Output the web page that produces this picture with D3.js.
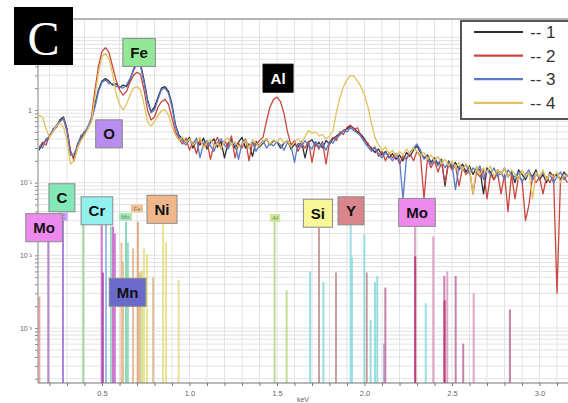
<!DOCTYPE html>
<html>
<head>
<meta charset="utf-8">
<script src="https://cdn.jsdelivr.net/npm/d3@7/dist/d3.min.js"></script>
<style>
  body { margin: 0; background: #fff; }
  svg { display: block; }
</style>
</head>
<body>
<div id="chart"></div>
<script>
// EDS spectrum, panel C

// channel axis (keV)
var energyStart = 0.14;
var energyStep = 0.02;

// spectra, one value per channel (counts, log axis)
var series1 = [0.28,0.34,0.38,0.44,0.52,0.58,0.74,0.80,0.55,0.26,
  0.22,0.34,0.42,0.50,0.56,0.72,1.2,1.9,2.5,2.7,
  2.5,2.2,2.3,2.0,2.2,2.1,2.6,3.6,4.6,4.3,
  2.6,1.4,0.95,1.1,1.5,2.0,2.1,1.8,1.2,0.62,
  0.45,0.40,0.36,0.42,0.30,0.38,0.33,0.41,0.29,0.36,
  0.40,0.31,0.37,0.22,0.35,0.39,0.30,0.36,0.42,0.30,
  0.34,0.23,0.37,0.31,0.35,0.40,0.33,0.38,0.36,0.30,
  0.35,0.38,0.29,0.34,0.31,0.37,0.22,0.36,0.39,0.32,
  0.36,0.30,0.38,0.34,0.40,0.44,0.48,0.52,0.55,0.60,
  0.56,0.50,0.46,0.40,0.33,0.30,0.26,0.29,0.24,0.27,
  0.22,0.25,0.21,0.24,0.20,0.26,0.23,0.28,0.32,0.26,
  0.22,0.24,0.19,0.22,0.18,0.21,0.09,0.20,0.16,0.19,
  0.15,0.18,0.14,0.17,0.13,0.16,0.15,0.07,0.16,0.14,
  0.11,0.15,0.13,0.16,0.12,0.14,0.10,0.15,0.13,0.11,
  0.14,0.12,0.15,0.11,0.13,0.10,0.14,0.12,0.13,0.11,
  0.14,0.12];

var series2 = [0.30,0.36,0.33,0.45,0.50,0.62,0.70,0.78,0.52,0.28,
  0.20,0.30,0.40,0.46,0.58,0.80,1.9,4.0,6.4,7.2,
  6.2,4.0,2.6,1.9,1.6,1.8,2.4,3.0,3.3,3.1,
  1.9,1.0,0.73,0.80,1.1,1.3,1.4,1.2,0.78,0.50,
  0.40,0.34,0.41,0.28,0.36,0.25,0.39,0.32,0.37,0.21,
  0.34,0.42,0.29,0.38,0.31,0.44,0.22,0.35,0.30,0.40,
  0.20,0.36,0.33,0.38,0.42,0.70,1.1,1.4,1.5,1.3,
  0.90,0.50,0.33,0.38,0.27,0.34,0.30,0.37,0.19,0.35,
  0.29,0.37,0.18,0.36,0.42,0.38,0.50,0.46,0.58,0.62,
  0.54,0.57,0.44,0.38,0.35,0.28,0.31,0.23,0.27,0.20,
  0.26,0.22,0.25,0.18,0.23,0.21,0.25,0.20,0.27,0.23,
  0.06,0.22,0.16,0.20,0.14,0.19,0.10,0.18,0.15,0.17,
  0.09,0.16,0.13,0.15,0.07,0.14,0.12,0.15,0.06,0.13,
  0.11,0.14,0.07,0.13,0.04,0.13,0.06,0.12,0.11,0.03,
  0.05,0.12,0.10,0.12,0.07,0.12,0.10,0.13,0.003,0.11,
  0.12,0.10];

var series3 = [0.32,0.30,0.40,0.42,0.55,0.60,0.70,0.76,0.50,0.24,
  0.25,0.32,0.45,0.48,0.60,0.75,1.1,1.8,2.4,2.6,
  2.3,2.3,2.1,2.1,2.0,2.2,2.7,3.5,4.3,4.0,
  2.4,1.3,0.92,1.0,1.4,1.9,2.0,1.7,1.1,0.60,
  0.42,0.37,0.33,0.39,0.34,0.41,0.22,0.35,0.38,0.32,
  0.27,0.36,0.40,0.33,0.29,0.37,0.34,0.21,0.35,0.39,
  0.31,0.36,0.27,0.33,0.38,0.30,0.35,0.32,0.37,0.33,
  0.28,0.36,0.32,0.19,0.35,0.31,0.38,0.33,0.29,0.37,
  0.31,0.35,0.28,0.37,0.35,0.42,0.45,0.53,0.50,0.57,
  0.52,0.48,0.43,0.36,0.31,0.27,0.30,0.25,0.22,0.26,
  0.23,0.20,0.24,0.21,0.06,0.22,0.26,0.30,0.34,0.28,
  0.21,0.23,0.18,0.21,0.17,0.20,0.16,0.19,0.18,0.08,
  0.17,0.15,0.18,0.13,0.16,0.14,0.17,0.11,0.15,0.13,
  0.16,0.12,0.14,0.11,0.15,0.13,0.12,0.14,0.10,0.13,
  0.15,0.11,0.13,0.12,0.14,0.11,0.13,0.10,0.12,0.14,
  0.11,0.13];

var series4 = [0.85,0.80,0.55,0.42,0.50,0.60,0.66,0.58,0.38,0.18,
  0.20,0.30,0.38,0.45,0.55,0.70,1.5,3.3,5.4,6.0,
  5.0,3.2,1.7,1.2,1.0,1.2,1.6,2.0,2.1,1.9,
  1.2,0.70,0.60,0.70,0.84,0.98,1.0,0.85,0.60,0.45,
  0.38,0.42,0.36,0.40,0.33,0.37,0.42,0.30,0.36,0.39,
  0.32,0.35,0.29,0.38,0.41,0.33,0.37,0.31,0.34,0.38,
  0.30,0.39,0.35,0.32,0.37,0.40,0.34,0.39,0.36,0.41,
  0.35,0.38,0.31,0.36,0.40,0.35,0.43,0.52,0.48,0.50,
  0.44,0.46,0.40,0.44,0.52,0.95,1.5,2.1,2.6,3.0,
  2.9,2.5,2.1,1.6,1.1,0.65,0.42,0.33,0.28,0.31,
  0.25,0.28,0.23,0.27,0.24,0.29,0.25,0.30,0.27,0.24,
  0.26,0.21,0.24,0.20,0.23,0.18,0.21,0.17,0.20,0.16,
  0.19,0.15,0.18,0.16,0.07,0.17,0.13,0.16,0.14,0.17,
  0.12,0.15,0.13,0.16,0.12,0.15,0.13,0.11,0.15,0.12,
  0.14,0.06,0.14,0.12,0.15,0.11,0.13,0.12,0.14,0.10,
  0.13,0.12];

var seriesNames = ["1", "2", "3", "4"];

// element marker lines (keV, relative height, family)
var markerEnergy = [0.142,0.193,0.277,0.392,0.498,0.505,0.523,0.551,0.563,0.573,
  0.611,0.620,0.637,0.648,0.677,0.705,0.717,0.728,0.740,0.757,
  0.792,0.849,0.866,0.938,1.486,1.555,1.689,1.740,1.765,1.837,
  1.921,1.928,1.999,2.013,2.035,2.060,2.073,2.111,2.119,2.289,
  2.290,2.350,2.393,2.456,2.458,2.473,2.521,2.564,2.624,2.831];
var markerHeight = [0.0027,0.023,0.034,0.027,0.026,0.0058,0.027,0.025,0.025,0.020,
  0.015,0.0082,0.029,0.015,0.0125,0.029,0.0058,0.0062,0.0125,0.0105,
  0.0050,0.029,0.0151,0.0046,0.029,0.0033,0.0060,0.024,0.0043,0.0058,
  0.027,0.0094,0.0194,0.0058,0.0013,0.0043,0.0052,0.00061,0.0036,0.025,
  0.0097,0.0022,0.0182,0.0052,0.0024,0.0060,0.0052,0.00061,0.0030,0.0018];
var markerFamily = ["MoM","MoM2","C","N","Cr","Cr2","O","Mn2","Cr","Cr",
  "Fe","Fe","Mn","Mn2","Fe","FeA","Fe","Ni2","Ni","Ni",
  "Fe","Ni","Ni","Ni","Al","Al","Y","Si","Y","Si",
  "Y","Y","Y","Si","Y","Y","Y","Lav","Mo","MoL",
  "MoD","Y","MoL","Mo","MoD","MoL","Mo","Mo","MoL","Mo"];

// label annotations
var labelText = ["Fe","O","Al","C","Mo","Cr","Ni","Si","Y","Mo","Mn"];
var labelEnergy = [0.712,0.54,1.506,0.271,0.169,0.471,0.843,1.734,1.923,2.30,0.646];
var labelValue = [6.2,0.47,2.74,0.062,0.024,0.041,0.043,0.038,0.041,0.039,0.0031];

var smallText = ["C","Mn","Fe","Al"];
var smallEnergy = [0.277,0.634,0.700,1.489];
var smallValue = [0.034,0.034,0.044,0.0326];

// styles
var seriesColor = ["#2e2e38", "#c8473e", "#5a78c8", "#e2c25c"];
var familyColor = {
  MoM: "#e89898", MoM2: "#b07cc4", C: "#a27ad8", N: "#9ed89a", Cr: "#c96cc8",
  Cr2: "#a84ca8", O: "#94b8e6", Mn: "#7ed6b2", Mn2: "#8fd6c0", Fe: "#e0bc92",
  FeA: "#e4a272", Ni: "#e6e08a", Ni2: "#cfe08a", Al: "#b9dc8a", Si: "#c49494",
  Y: "#8edcdc", Lav: "#b8a8d8", Mo: "#c274a4", MoL: "#dc9ac4", MoD: "#c0336a"
};
var labelColor = {Fe: "#92e896", O: "#b98cf0", Al: "#000000", C: "#82e8b8", Mo: "#ee8aee",
  Cr: "#92f0ee", Ni: "#f0b88a", Si: "#f8f89a", Y: "#d8868c", Mn: "#6a6acb"};
var smallColor = {C: "#c8a2f2", Mn: "#a6e8b8", Fe: "#f2c294", Al: "#cce894"};

var W = 568, H = 403;
var plot = {left: 38, right: 568, top: 19, bottom: 383};

var svg = d3.select("#chart").append("svg")
    .attr("width", W)
    .attr("height", H);

var x = d3.scaleLinear().domain([0, 3]).range([14.5, 539.5]);
var y = d3.scaleLog().domain([1e-3, 1]).range([328, 110]);

svg.append("defs").append("clipPath").attr("id", "plotclip")
  .append("rect")
    .attr("x", plot.left).attr("y", plot.top)
    .attr("width", plot.right - plot.left).attr("height", plot.bottom - plot.top);

// grid
var vGrid = d3.range(2, 32).map(function(d){ return d / 10; });
var hGrid = [];
for (var e = -4; e <= 1; e++) {
  for (var m = 1; m <= 9; m++) {
    var v = m * Math.pow(10, e);
    if (y(v) > plot.top && y(v) < plot.bottom) hGrid.push(v);
  }
}
var grid = svg.append("g");
grid.selectAll(".vg").data(vGrid).enter().append("line")
    .attr("x1", function(d){ return x(d); }).attr("x2", function(d){ return x(d); })
    .attr("y1", plot.top).attr("y2", plot.bottom)
    .attr("stroke", "#e2e2e2").attr("stroke-width", 1);
grid.selectAll(".hg").data(hGrid).enter().append("line")
    .attr("x1", plot.left).attr("x2", plot.right)
    .attr("y1", function(d){ return y(d); }).attr("y2", function(d){ return y(d); })
    .attr("stroke", "#e2e2e2").attr("stroke-width", 1);

// top border
svg.append("line").attr("x1", plot.left).attr("x2", plot.right)
    .attr("y1", plot.top).attr("y2", plot.top)
    .attr("stroke", "#b4b4b4").attr("stroke-width", 2);

// element marker lines
var markers = markerEnergy.map(function(d, i){
  return {e: d, v: markerHeight[i], f: markerFamily[i]};
});
svg.append("g").attr("clip-path", "url(#plotclip)")
  .selectAll("line").data(markers).enter().append("line")
    .attr("x1", function(d){ return x(d.e); }).attr("x2", function(d){ return x(d.e); })
    .attr("y1", plot.bottom)
    .attr("y2", function(d){ return y(d.v); })
    .attr("stroke", function(d){ return familyColor[d.f]; })
    .attr("stroke-width", 2)
    .attr("opacity", 0.9);

// spectra
var allSeries = [series1, series2, series3, series4];
var line = d3.line()
    .x(function(d, i){ return x(energyStart + i * energyStep); })
    .y(function(d){ return y(d); });

svg.append("g").attr("clip-path", "url(#plotclip)")
  .selectAll("path").data(allSeries).enter().append("path")
    .attr("d", line)
    .attr("fill", "none")
    .attr("stroke", function(d, i){ return seriesColor[i]; })
    .attr("stroke-width", 1.3)
    .attr("stroke-linejoin", "round");

// axes
var xAxis = d3.axisBottom(x)
    .tickValues(vGrid)
    .tickSize(3)
    .tickFormat(function(d){ return Math.round(d * 10) % 5 === 0 ? d.toFixed(1) : ""; });
var gx = svg.append("g")
    .attr("transform", "translate(0," + plot.bottom + ")")
    .call(xAxis);
gx.select(".domain").remove();
gx.selectAll("line").attr("stroke", "#777");
gx.selectAll("text").attr("fill", "#666").attr("font-size", 7.5)
    .attr("font-family", "Liberation Sans, Arial, sans-serif").attr("dy", "0.9em");
svg.append("line").attr("x1", plot.left).attr("x2", plot.right)
    .attr("y1", plot.bottom).attr("y2", plot.bottom)
    .attr("stroke", "#777").attr("stroke-width", 1.2);

var supers = {"-1": "⁻¹", "-2": "⁻²", "-3": "⁻³"};
var yAxis = d3.axisLeft(y)
    .tickValues(hGrid)
    .tickSize(3)
    .tickFormat(function(d){
      var lg = Math.log10(d);
      if (Math.abs(lg - Math.round(lg)) > 1e-6) return "";
      lg = Math.round(lg);
      if (lg === 0) return "1";
      if (!supers[String(lg)]) return "";
      return "10" + supers[String(lg)];
    });
var gy = svg.append("g")
    .attr("transform", "translate(" + plot.left + ",0)")
    .call(yAxis);
gy.select(".domain").remove();
gy.selectAll("line").attr("stroke", "#888");
gy.selectAll("text").attr("fill", "#666").attr("font-size", 7)
    .attr("font-family", "Liberation Sans, Arial, sans-serif");
svg.append("line").attr("x1", plot.left).attr("x2", plot.left)
    .attr("y1", plot.top).attr("y2", plot.bottom)
    .attr("stroke", "#999").attr("stroke-width", 1.2);

svg.append("text").attr("x", 303).attr("y", 402)
    .attr("text-anchor", "middle").attr("fill", "#666").attr("font-size", 7)
    .attr("font-family", "Liberation Sans, Arial, sans-serif")
    .text("keV");

// small element tags
smallText.forEach(function(t, i){
  var cx = x(smallEnergy[i]), cy = y(smallValue[i]);
  var g = svg.append("g");
  var txt = g.append("text").attr("x", cx).attr("y", cy + 2.2)
      .attr("text-anchor", "middle").attr("font-size", 6)
      .attr("font-family", "Liberation Sans, Arial, sans-serif")
      .attr("fill", "#777").text(t);
  var w = txt.node().getComputedTextLength() + 5;
  g.insert("rect", "text").attr("x", cx - w / 2).attr("y", cy - 4)
      .attr("width", w).attr("height", 8).attr("fill", smallColor[t]);
});

// big element labels
labelText.forEach(function(t, i){
  var cx = x(labelEnergy[i]), cy = y(labelValue[i]);
  var g = svg.append("g");
  var txt = g.append("text").attr("x", cx).attr("y", cy + 5.5)
      .attr("text-anchor", "middle").attr("font-size", 15).attr("font-weight", "bold")
      .attr("font-family", "Liberation Sans, Arial, sans-serif")
      .attr("fill", t === "Al" ? "#fff" : "#111").text(t);
  var w = Math.max(26, txt.node().getComputedTextLength() + 15);
  g.insert("rect", "text").attr("x", cx - w / 2).attr("y", cy - 14)
      .attr("width", w).attr("height", 28)
      .attr("fill", labelColor[t])
      .attr("stroke", t === "Al" ? "#000" : "#8a8a8a").attr("stroke-width", 1);
});

// legend
var legend = svg.append("g");
legend.append("rect").attr("x", 461).attr("y", 21).attr("width", 130).attr("height", 98)
    .attr("fill", "#fff").attr("stroke", "#555").attr("stroke-width", 2);
seriesNames.forEach(function(n, i){
  var ly = 32 + i * 23.6;
  legend.append("line").attr("x1", 474).attr("x2", 523).attr("y1", ly).attr("y2", ly)
      .attr("stroke", seriesColor[i]).attr("stroke-width", 2.2);
  legend.append("text").attr("x", 530).attr("y", ly + 6)
      .attr("font-size", 17).attr("fill", "#333")
      .attr("font-family", "Liberation Sans, Arial, sans-serif")
      .text("-- " + n);
});

// panel letter
svg.append("rect").attr("x", 14).attr("y", 7).attr("width", 59).attr("height", 58).attr("fill", "#000");
svg.append("text").attr("x", 43.5).attr("y", 55)
    .attr("text-anchor", "middle").attr("font-size", 48)
    .attr("font-family", "Liberation Serif, Times New Roman, serif")
    .attr("fill", "#fff").text("C");
</script>
</body>
</html>
